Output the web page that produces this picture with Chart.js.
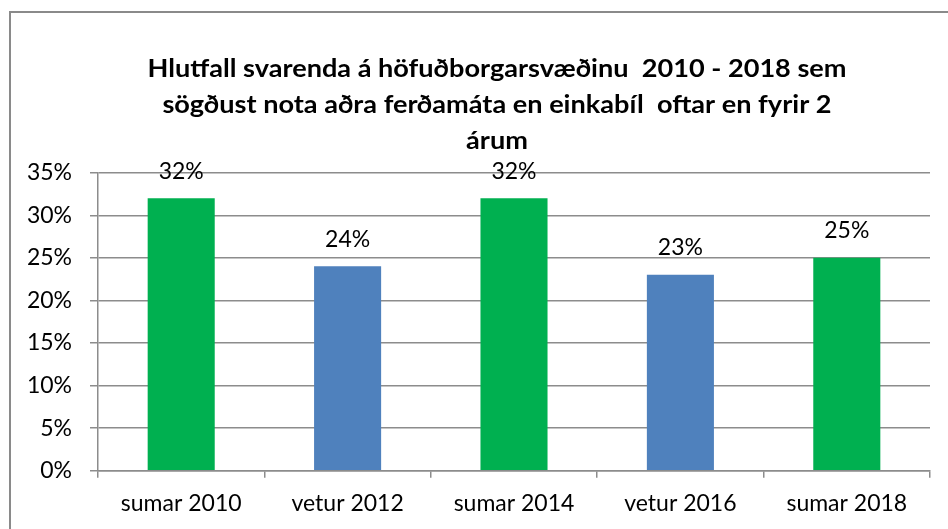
<!DOCTYPE html>
<html>
<head>
<meta charset="utf-8">
<script src="https://cdn.jsdelivr.net/npm/chart.js@4/dist/chart.umd.min.js"></script>
<style>
html,body{margin:0;padding:0;background:#fff;}
#wrap{position:relative;width:948px;height:529px;}
</style>
</head>
<body>
<div id="wrap"><canvas id="c" width="948" height="529"></canvas></div>
<script>
const categories = ["sumar 2010", "vetur 2012", "sumar 2014", "vetur 2016", "sumar 2018"];
const values = [32, 24, 32, 23, 25];
const barColors = ["#00B050", "#4F81BD", "#00B050", "#4F81BD", "#00B050"];
const titleLines = [
  "Hlutfall svarenda á höfuðborgarsvæðinu  2010 - 2018 sem",
  "sögðust nota aðra ferðamáta en einkabíl  oftar en fyrir 2",
  "árum"
];
const yMin = 0, yMax = 35, yStep = 5;

const FONT = "Lato, 'Liberation Sans', sans-serif";

const framePlugin = {
  id: 'frame',
  beforeDraw(chart) {
    const ctx = chart.ctx;
    ctx.save();
    ctx.fillStyle = '#fff';
    ctx.fillRect(0, 0, chart.width, chart.height);
    ctx.strokeStyle = '#8a8a8a';
    ctx.lineWidth = 2;
    ctx.beginPath();
    ctx.moveTo(10, chart.height + 5);
    ctx.lineTo(10, 12);
    ctx.lineTo(chart.width + 5, 12);
    ctx.stroke();
    ctx.restore();
  }
};

const titlePlugin = {
  id: 'customTitle',
  afterDraw(chart) {
    const ctx = chart.ctx;
    ctx.save();
    const size = 25.5;
    ctx.font = `bold ${size}px ${FONT}`;
    const w = ctx.measureText(titleLines[0]).width;
    const sx = 699 / w;
    ctx.fillStyle = '#000';
    ctx.textAlign = 'center';
    ctx.textBaseline = 'alphabetic';
    const baselines = [76.7, 113, 148.5];
    titleLines.forEach((t, i) => {
      ctx.save();
      ctx.translate(497, baselines[i]);
      ctx.scale(sx, 1);
      ctx.fillText(t, 0, 0);
      ctx.restore();
    });
    ctx.restore();
  }
};

const labelPlugin = {
  id: 'barLabels',
  afterDatasetsDraw(chart) {
    const ctx = chart.ctx;
    const meta = chart.getDatasetMeta(0);
    ctx.save();
    ctx.font = `23px ${FONT}`;
    ctx.fillStyle = '#000';
    ctx.textAlign = 'center';
    ctx.textBaseline = 'middle';
    meta.data.forEach((bar, i) => {
      ctx.fillText(values[i] + '%', bar.x, bar.y - 27);
    });
    ctx.restore();
  }
};

new Chart(document.getElementById('c'), {
  type: 'bar',
  data: {
    labels: categories,
    datasets: [{
      data: values,
      backgroundColor: barColors,
      borderWidth: 0,
      barPercentage: 0.403,
      categoryPercentage: 1.0
    }]
  },
  options: {
    responsive: false,
    animation: false,
    devicePixelRatio: 1,
    layout: { padding: { top: 172.7, right: 18, left: 0, bottom: 0 } },
    plugins: {
      legend: { display: false },
      title: { display: false },
      tooltip: { enabled: false }
    },
    scales: {
      x: {
        afterFit(s) { s.height = 58.3; },
        grid: { display: true, drawOnChartArea: false, drawTicks: true, tickLength: 7, color: '#8c8c8c', lineWidth: 1.5 },
        border: { display: true, color: '#8c8c8c', width: 1.5 },
        ticks: { color: '#000', font: { family: FONT, size: 23 }, padding: 12, maxRotation: 0 }
      },
      y: {
        min: yMin, max: yMax,
        afterFit(s) { s.width = 98; },
        grid: { display: true, drawTicks: true, tickLength: 8, color: '#8c8c8c', lineWidth: 1.5 },
        border: { display: true, color: '#8c8c8c', width: 1.5 },
        ticks: {
          stepSize: yStep,
          color: '#000',
          font: { family: FONT, size: 23 },
          padding: 18,
          callback: v => v + '%'
        }
      }
    }
  },
  plugins: [framePlugin, titlePlugin, labelPlugin]
});
</script>
</body>
</html>
